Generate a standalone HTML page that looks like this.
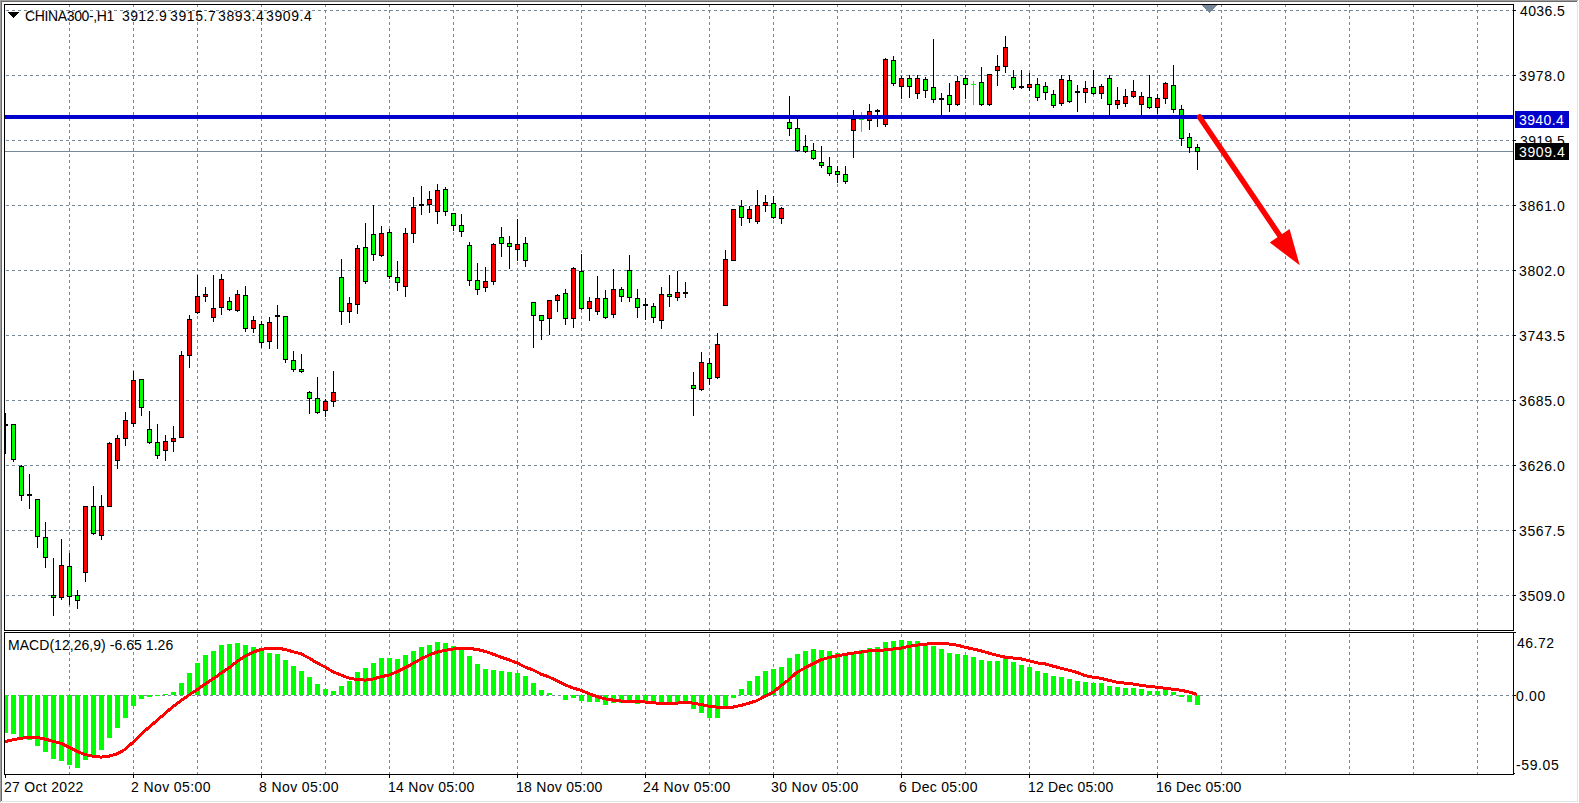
<!DOCTYPE html>
<html><head><meta charset="utf-8"><style>
html,body{margin:0;padding:0;background:#fff;}
body{width:1579px;height:803px;overflow:hidden;position:relative;}
svg{position:absolute;left:0;top:0;display:block;}
text{font-family:"Liberation Sans",sans-serif;white-space:pre;}
</style></head><body>
<svg width="1579" height="803" viewBox="0 0 1579 803" shape-rendering="crispEdges">
<rect x="0" y="0" width="1579" height="803" fill="#fff"/>
<path d="M69.5 4V775 M133.5 4V775 M197.5 4V775 M261.5 4V775 M325.5 4V775 M389.5 4V775 M453.5 4V775 M517.5 4V775 M581.5 4V775 M645.5 4V775 M709.5 4V775 M773.5 4V775 M837.5 4V775 M901.5 4V775 M965.5 4V775 M1029.5 4V775 M1093.5 4V775 M1157.5 4V775 M1221.5 4V775 M1285.5 4V775 M1349.5 4V775 M1413.5 4V775 M1477.5 4V775 M6 10.5H1513 M6 75.5H1513 M6 140.5H1513 M6 205.5H1513 M6 270.5H1513 M6 335.5H1513 M6 400.5H1513 M6 465.5H1513 M6 530.5H1513 M6 595.5H1513 M6 695.5H1513" stroke="#778899" stroke-width="1" stroke-dasharray="3 3" fill="none"/>
<rect x="5" y="631" width="1508" height="1" fill="#fff"/>
<rect x="5" y="151" width="1508" height="1" fill="#778899"/>
<rect x="5" y="413" width="1" height="41" fill="#000"/>
<rect x="5" y="424" width="3" height="2" fill="#000"/>
<rect x="13" y="424" width="1" height="38" fill="#000"/>
<rect x="11" y="424" width="5" height="36" fill="#000"/>
<rect x="12" y="425" width="3" height="34" fill="#00ff00"/>
<rect x="21" y="465" width="1" height="36" fill="#000"/>
<rect x="19" y="466" width="5" height="30" fill="#000"/>
<rect x="20" y="467" width="3" height="28" fill="#00ff00"/>
<rect x="29" y="474" width="1" height="35" fill="#000"/>
<rect x="27" y="494" width="5" height="2" fill="#000"/>
<rect x="37" y="499" width="1" height="49" fill="#000"/>
<rect x="35" y="499" width="5" height="38" fill="#000"/>
<rect x="36" y="500" width="3" height="36" fill="#00ff00"/>
<rect x="45" y="522" width="1" height="46" fill="#000"/>
<rect x="43" y="537" width="5" height="21" fill="#000"/>
<rect x="44" y="538" width="3" height="19" fill="#00ff00"/>
<rect x="53" y="558" width="1" height="58" fill="#000"/>
<rect x="51" y="595" width="5" height="3" fill="#000"/>
<rect x="52" y="596" width="3" height="1" fill="#00ff00"/>
<rect x="61" y="539" width="1" height="61" fill="#000"/>
<rect x="59" y="565" width="5" height="33" fill="#000"/>
<rect x="60" y="566" width="3" height="31" fill="#ff0000"/>
<rect x="69" y="553" width="1" height="52" fill="#000"/>
<rect x="67" y="566" width="5" height="31" fill="#000"/>
<rect x="68" y="567" width="3" height="29" fill="#00ff00"/>
<rect x="77" y="590" width="1" height="19" fill="#000"/>
<rect x="75" y="595" width="5" height="6" fill="#000"/>
<rect x="76" y="596" width="3" height="4" fill="#00ff00"/>
<rect x="85" y="506" width="1" height="76" fill="#000"/>
<rect x="83" y="506" width="5" height="67" fill="#000"/>
<rect x="84" y="507" width="3" height="65" fill="#ff0000"/>
<rect x="93" y="486" width="1" height="49" fill="#000"/>
<rect x="91" y="506" width="5" height="28" fill="#000"/>
<rect x="92" y="507" width="3" height="26" fill="#00ff00"/>
<rect x="101" y="495" width="1" height="45" fill="#000"/>
<rect x="99" y="506" width="5" height="30" fill="#000"/>
<rect x="100" y="507" width="3" height="28" fill="#ff0000"/>
<rect x="109" y="442" width="1" height="65" fill="#000"/>
<rect x="107" y="443" width="5" height="64" fill="#000"/>
<rect x="108" y="444" width="3" height="62" fill="#ff0000"/>
<rect x="117" y="435" width="1" height="34" fill="#000"/>
<rect x="115" y="438" width="5" height="23" fill="#000"/>
<rect x="116" y="439" width="3" height="21" fill="#ff0000"/>
<rect x="125" y="412" width="1" height="34" fill="#000"/>
<rect x="123" y="420" width="5" height="19" fill="#000"/>
<rect x="124" y="421" width="3" height="17" fill="#ff0000"/>
<rect x="133" y="371" width="1" height="56" fill="#000"/>
<rect x="131" y="380" width="5" height="44" fill="#000"/>
<rect x="132" y="381" width="3" height="42" fill="#ff0000"/>
<rect x="141" y="379" width="1" height="37" fill="#000"/>
<rect x="139" y="379" width="5" height="29" fill="#000"/>
<rect x="140" y="380" width="3" height="27" fill="#00ff00"/>
<rect x="149" y="411" width="1" height="33" fill="#000"/>
<rect x="147" y="429" width="5" height="14" fill="#000"/>
<rect x="148" y="430" width="3" height="12" fill="#00ff00"/>
<rect x="157" y="424" width="1" height="35" fill="#000"/>
<rect x="155" y="442" width="5" height="14" fill="#000"/>
<rect x="156" y="443" width="3" height="12" fill="#00ff00"/>
<rect x="165" y="435" width="1" height="26" fill="#000"/>
<rect x="163" y="441" width="5" height="10" fill="#000"/>
<rect x="164" y="442" width="3" height="8" fill="#ff0000"/>
<rect x="173" y="426" width="1" height="26" fill="#000"/>
<rect x="171" y="438" width="5" height="4" fill="#000"/>
<rect x="172" y="439" width="3" height="2" fill="#ff0000"/>
<rect x="181" y="351" width="1" height="87" fill="#000"/>
<rect x="179" y="355" width="5" height="83" fill="#000"/>
<rect x="180" y="356" width="3" height="81" fill="#ff0000"/>
<rect x="189" y="315" width="1" height="53" fill="#000"/>
<rect x="187" y="319" width="5" height="37" fill="#000"/>
<rect x="188" y="320" width="3" height="35" fill="#ff0000"/>
<rect x="197" y="275" width="1" height="39" fill="#000"/>
<rect x="195" y="296" width="5" height="17" fill="#000"/>
<rect x="196" y="297" width="3" height="15" fill="#ff0000"/>
<rect x="205" y="287" width="1" height="15" fill="#000"/>
<rect x="203" y="294" width="5" height="3" fill="#000"/>
<rect x="204" y="295" width="3" height="1" fill="#ff0000"/>
<rect x="213" y="275" width="1" height="47" fill="#000"/>
<rect x="211" y="308" width="5" height="10" fill="#000"/>
<rect x="212" y="309" width="3" height="8" fill="#ff0000"/>
<rect x="221" y="274" width="1" height="41" fill="#000"/>
<rect x="219" y="279" width="5" height="29" fill="#000"/>
<rect x="220" y="280" width="3" height="27" fill="#ff0000"/>
<rect x="229" y="297" width="1" height="14" fill="#000"/>
<rect x="227" y="301" width="5" height="9" fill="#000"/>
<rect x="228" y="302" width="3" height="7" fill="#00ff00"/>
<rect x="237" y="290" width="1" height="22" fill="#000"/>
<rect x="235" y="294" width="5" height="17" fill="#000"/>
<rect x="236" y="295" width="3" height="15" fill="#ff0000"/>
<rect x="245" y="286" width="1" height="46" fill="#000"/>
<rect x="243" y="295" width="5" height="34" fill="#000"/>
<rect x="244" y="296" width="3" height="32" fill="#00ff00"/>
<rect x="253" y="316" width="1" height="17" fill="#000"/>
<rect x="251" y="320" width="5" height="9" fill="#000"/>
<rect x="252" y="321" width="3" height="7" fill="#ff0000"/>
<rect x="261" y="321" width="1" height="27" fill="#000"/>
<rect x="259" y="324" width="5" height="19" fill="#000"/>
<rect x="260" y="325" width="3" height="17" fill="#00ff00"/>
<rect x="269" y="317" width="1" height="32" fill="#000"/>
<rect x="267" y="322" width="5" height="20" fill="#000"/>
<rect x="268" y="323" width="3" height="18" fill="#ff0000"/>
<rect x="277" y="305" width="1" height="44" fill="#000"/>
<rect x="275" y="315" width="5" height="2" fill="#000"/>
<rect x="285" y="316" width="1" height="47" fill="#000"/>
<rect x="283" y="316" width="5" height="44" fill="#000"/>
<rect x="284" y="317" width="3" height="42" fill="#00ff00"/>
<rect x="293" y="351" width="1" height="21" fill="#000"/>
<rect x="291" y="360" width="5" height="10" fill="#000"/>
<rect x="292" y="361" width="3" height="8" fill="#00ff00"/>
<rect x="301" y="354" width="1" height="19" fill="#000"/>
<rect x="299" y="369" width="5" height="3" fill="#000"/>
<rect x="300" y="370" width="3" height="1" fill="#00ff00"/>
<rect x="309" y="391" width="1" height="23" fill="#000"/>
<rect x="307" y="392" width="5" height="7" fill="#000"/>
<rect x="308" y="393" width="3" height="5" fill="#00ff00"/>
<rect x="317" y="377" width="1" height="37" fill="#000"/>
<rect x="315" y="398" width="5" height="15" fill="#000"/>
<rect x="316" y="399" width="3" height="13" fill="#00ff00"/>
<rect x="325" y="399" width="1" height="18" fill="#000"/>
<rect x="323" y="401" width="5" height="10" fill="#000"/>
<rect x="324" y="402" width="3" height="8" fill="#ff0000"/>
<rect x="333" y="371" width="1" height="36" fill="#000"/>
<rect x="331" y="392" width="5" height="10" fill="#000"/>
<rect x="332" y="393" width="3" height="8" fill="#ff0000"/>
<rect x="341" y="259" width="1" height="66" fill="#000"/>
<rect x="339" y="277" width="5" height="35" fill="#000"/>
<rect x="340" y="278" width="3" height="33" fill="#00ff00"/>
<rect x="349" y="297" width="1" height="26" fill="#000"/>
<rect x="347" y="303" width="5" height="9" fill="#000"/>
<rect x="348" y="304" width="3" height="7" fill="#ff0000"/>
<rect x="357" y="245" width="1" height="69" fill="#000"/>
<rect x="355" y="248" width="5" height="57" fill="#000"/>
<rect x="356" y="249" width="3" height="55" fill="#ff0000"/>
<rect x="365" y="223" width="1" height="61" fill="#000"/>
<rect x="363" y="247" width="5" height="35" fill="#000"/>
<rect x="364" y="248" width="3" height="33" fill="#00ff00"/>
<rect x="373" y="205" width="1" height="56" fill="#000"/>
<rect x="371" y="234" width="5" height="21" fill="#000"/>
<rect x="372" y="235" width="3" height="19" fill="#00ff00"/>
<rect x="381" y="226" width="1" height="31" fill="#000"/>
<rect x="379" y="233" width="5" height="23" fill="#000"/>
<rect x="380" y="234" width="3" height="21" fill="#ff0000"/>
<rect x="389" y="229" width="1" height="50" fill="#000"/>
<rect x="387" y="232" width="5" height="45" fill="#000"/>
<rect x="388" y="233" width="3" height="43" fill="#00ff00"/>
<rect x="397" y="261" width="1" height="30" fill="#000"/>
<rect x="395" y="277" width="5" height="6" fill="#000"/>
<rect x="396" y="278" width="3" height="4" fill="#00ff00"/>
<rect x="405" y="228" width="1" height="69" fill="#000"/>
<rect x="403" y="233" width="5" height="54" fill="#000"/>
<rect x="404" y="234" width="3" height="52" fill="#ff0000"/>
<rect x="413" y="197" width="1" height="46" fill="#000"/>
<rect x="411" y="207" width="5" height="27" fill="#000"/>
<rect x="412" y="208" width="3" height="25" fill="#ff0000"/>
<rect x="421" y="186" width="1" height="29" fill="#000"/>
<rect x="419" y="204" width="5" height="2" fill="#000"/>
<rect x="429" y="191" width="1" height="22" fill="#000"/>
<rect x="427" y="199" width="5" height="6" fill="#000"/>
<rect x="428" y="200" width="3" height="4" fill="#ff0000"/>
<rect x="437" y="184" width="1" height="40" fill="#000"/>
<rect x="435" y="190" width="5" height="22" fill="#000"/>
<rect x="436" y="191" width="3" height="20" fill="#ff0000"/>
<rect x="445" y="187" width="1" height="29" fill="#000"/>
<rect x="443" y="189" width="5" height="23" fill="#000"/>
<rect x="444" y="190" width="3" height="21" fill="#00ff00"/>
<rect x="453" y="213" width="1" height="18" fill="#000"/>
<rect x="451" y="213" width="5" height="13" fill="#000"/>
<rect x="452" y="214" width="3" height="11" fill="#00ff00"/>
<rect x="461" y="214" width="1" height="23" fill="#000"/>
<rect x="459" y="225" width="5" height="7" fill="#000"/>
<rect x="460" y="226" width="3" height="5" fill="#00ff00"/>
<rect x="469" y="242" width="1" height="44" fill="#000"/>
<rect x="467" y="245" width="5" height="36" fill="#000"/>
<rect x="468" y="246" width="3" height="34" fill="#00ff00"/>
<rect x="477" y="263" width="1" height="32" fill="#000"/>
<rect x="475" y="280" width="5" height="10" fill="#000"/>
<rect x="476" y="281" width="3" height="8" fill="#00ff00"/>
<rect x="485" y="267" width="1" height="25" fill="#000"/>
<rect x="483" y="281" width="5" height="7" fill="#000"/>
<rect x="484" y="282" width="3" height="5" fill="#ff0000"/>
<rect x="493" y="243" width="1" height="42" fill="#000"/>
<rect x="491" y="244" width="5" height="38" fill="#000"/>
<rect x="492" y="245" width="3" height="36" fill="#ff0000"/>
<rect x="501" y="227" width="1" height="30" fill="#000"/>
<rect x="499" y="237" width="5" height="7" fill="#000"/>
<rect x="500" y="238" width="3" height="5" fill="#00ff00"/>
<rect x="509" y="236" width="1" height="33" fill="#000"/>
<rect x="507" y="243" width="5" height="4" fill="#000"/>
<rect x="508" y="244" width="3" height="2" fill="#00ff00"/>
<rect x="517" y="219" width="1" height="42" fill="#000"/>
<rect x="515" y="244" width="5" height="6" fill="#000"/>
<rect x="516" y="245" width="3" height="4" fill="#ff0000"/>
<rect x="525" y="237" width="1" height="30" fill="#000"/>
<rect x="523" y="243" width="5" height="18" fill="#000"/>
<rect x="524" y="244" width="3" height="16" fill="#00ff00"/>
<rect x="533" y="302" width="1" height="46" fill="#000"/>
<rect x="531" y="302" width="5" height="14" fill="#000"/>
<rect x="532" y="303" width="3" height="12" fill="#00ff00"/>
<rect x="541" y="315" width="1" height="25" fill="#000"/>
<rect x="539" y="315" width="5" height="6" fill="#000"/>
<rect x="540" y="316" width="3" height="4" fill="#00ff00"/>
<rect x="549" y="300" width="1" height="35" fill="#000"/>
<rect x="547" y="300" width="5" height="19" fill="#000"/>
<rect x="548" y="301" width="3" height="17" fill="#ff0000"/>
<rect x="557" y="294" width="1" height="18" fill="#000"/>
<rect x="555" y="295" width="5" height="6" fill="#000"/>
<rect x="556" y="296" width="3" height="4" fill="#ff0000"/>
<rect x="565" y="289" width="1" height="36" fill="#000"/>
<rect x="563" y="293" width="5" height="26" fill="#000"/>
<rect x="564" y="294" width="3" height="24" fill="#00ff00"/>
<rect x="573" y="267" width="1" height="61" fill="#000"/>
<rect x="571" y="268" width="5" height="51" fill="#000"/>
<rect x="572" y="269" width="3" height="49" fill="#ff0000"/>
<rect x="581" y="254" width="1" height="56" fill="#000"/>
<rect x="579" y="271" width="5" height="38" fill="#000"/>
<rect x="580" y="272" width="3" height="36" fill="#00ff00"/>
<rect x="589" y="297" width="1" height="24" fill="#000"/>
<rect x="587" y="301" width="5" height="8" fill="#000"/>
<rect x="588" y="302" width="3" height="6" fill="#ff0000"/>
<rect x="597" y="276" width="1" height="39" fill="#000"/>
<rect x="595" y="298" width="5" height="14" fill="#000"/>
<rect x="596" y="299" width="3" height="12" fill="#ff0000"/>
<rect x="605" y="290" width="1" height="29" fill="#000"/>
<rect x="603" y="298" width="5" height="20" fill="#000"/>
<rect x="604" y="299" width="3" height="18" fill="#00ff00"/>
<rect x="613" y="269" width="1" height="49" fill="#000"/>
<rect x="611" y="289" width="5" height="26" fill="#000"/>
<rect x="612" y="290" width="3" height="24" fill="#ff0000"/>
<rect x="621" y="287" width="1" height="15" fill="#000"/>
<rect x="619" y="289" width="5" height="8" fill="#000"/>
<rect x="620" y="290" width="3" height="6" fill="#00ff00"/>
<rect x="629" y="255" width="1" height="47" fill="#000"/>
<rect x="627" y="270" width="5" height="28" fill="#000"/>
<rect x="628" y="271" width="3" height="26" fill="#00ff00"/>
<rect x="637" y="289" width="1" height="29" fill="#000"/>
<rect x="635" y="298" width="5" height="10" fill="#000"/>
<rect x="636" y="299" width="3" height="8" fill="#00ff00"/>
<rect x="645" y="298" width="1" height="22" fill="#000"/>
<rect x="643" y="304" width="5" height="2" fill="#000"/>
<rect x="653" y="303" width="1" height="20" fill="#000"/>
<rect x="651" y="306" width="5" height="12" fill="#000"/>
<rect x="652" y="307" width="3" height="10" fill="#00ff00"/>
<rect x="661" y="287" width="1" height="42" fill="#000"/>
<rect x="659" y="294" width="5" height="27" fill="#000"/>
<rect x="660" y="295" width="3" height="25" fill="#ff0000"/>
<rect x="669" y="275" width="1" height="32" fill="#000"/>
<rect x="667" y="294" width="5" height="3" fill="#000"/>
<rect x="668" y="295" width="3" height="1" fill="#00ff00"/>
<rect x="677" y="271" width="1" height="30" fill="#000"/>
<rect x="675" y="292" width="5" height="6" fill="#000"/>
<rect x="676" y="293" width="3" height="4" fill="#ff0000"/>
<rect x="685" y="282" width="1" height="16" fill="#000"/>
<rect x="683" y="292" width="5" height="2" fill="#000"/>
<rect x="693" y="372" width="1" height="44" fill="#000"/>
<rect x="691" y="385" width="5" height="4" fill="#000"/>
<rect x="692" y="386" width="3" height="2" fill="#00ff00"/>
<rect x="701" y="352" width="1" height="39" fill="#000"/>
<rect x="699" y="362" width="5" height="28" fill="#000"/>
<rect x="700" y="363" width="3" height="26" fill="#ff0000"/>
<rect x="709" y="358" width="1" height="27" fill="#000"/>
<rect x="707" y="363" width="5" height="16" fill="#000"/>
<rect x="708" y="364" width="3" height="14" fill="#00ff00"/>
<rect x="717" y="333" width="1" height="46" fill="#000"/>
<rect x="715" y="344" width="5" height="34" fill="#000"/>
<rect x="716" y="345" width="3" height="32" fill="#ff0000"/>
<rect x="725" y="250" width="1" height="56" fill="#000"/>
<rect x="723" y="259" width="5" height="47" fill="#000"/>
<rect x="724" y="260" width="3" height="45" fill="#ff0000"/>
<rect x="733" y="209" width="1" height="52" fill="#000"/>
<rect x="731" y="209" width="5" height="52" fill="#000"/>
<rect x="732" y="210" width="3" height="50" fill="#ff0000"/>
<rect x="741" y="200" width="1" height="26" fill="#000"/>
<rect x="739" y="206" width="5" height="12" fill="#000"/>
<rect x="740" y="207" width="3" height="10" fill="#00ff00"/>
<rect x="749" y="206" width="1" height="17" fill="#000"/>
<rect x="747" y="209" width="5" height="10" fill="#000"/>
<rect x="748" y="210" width="3" height="8" fill="#ff0000"/>
<rect x="757" y="190" width="1" height="34" fill="#000"/>
<rect x="755" y="205" width="5" height="17" fill="#000"/>
<rect x="756" y="206" width="3" height="15" fill="#ff0000"/>
<rect x="765" y="195" width="1" height="17" fill="#000"/>
<rect x="763" y="202" width="5" height="4" fill="#000"/>
<rect x="764" y="203" width="3" height="2" fill="#ff0000"/>
<rect x="773" y="196" width="1" height="23" fill="#000"/>
<rect x="771" y="203" width="5" height="15" fill="#000"/>
<rect x="772" y="204" width="3" height="13" fill="#00ff00"/>
<rect x="781" y="207" width="1" height="17" fill="#000"/>
<rect x="779" y="208" width="5" height="11" fill="#000"/>
<rect x="780" y="209" width="3" height="9" fill="#ff0000"/>
<rect x="789" y="96" width="1" height="40" fill="#000"/>
<rect x="787" y="122" width="5" height="7" fill="#000"/>
<rect x="788" y="123" width="3" height="5" fill="#00ff00"/>
<rect x="797" y="117" width="1" height="35" fill="#000"/>
<rect x="795" y="128" width="5" height="23" fill="#000"/>
<rect x="796" y="129" width="3" height="21" fill="#00ff00"/>
<rect x="805" y="135" width="1" height="18" fill="#000"/>
<rect x="803" y="146" width="5" height="6" fill="#000"/>
<rect x="804" y="147" width="3" height="4" fill="#00ff00"/>
<rect x="813" y="143" width="1" height="17" fill="#000"/>
<rect x="811" y="150" width="5" height="9" fill="#000"/>
<rect x="812" y="151" width="3" height="7" fill="#00ff00"/>
<rect x="821" y="146" width="1" height="22" fill="#000"/>
<rect x="819" y="162" width="5" height="4" fill="#000"/>
<rect x="820" y="163" width="3" height="2" fill="#00ff00"/>
<rect x="829" y="157" width="1" height="19" fill="#000"/>
<rect x="827" y="166" width="5" height="8" fill="#000"/>
<rect x="828" y="167" width="3" height="6" fill="#00ff00"/>
<rect x="837" y="166" width="1" height="17" fill="#000"/>
<rect x="835" y="171" width="5" height="4" fill="#000"/>
<rect x="836" y="172" width="3" height="2" fill="#00ff00"/>
<rect x="845" y="166" width="1" height="18" fill="#000"/>
<rect x="843" y="174" width="5" height="8" fill="#000"/>
<rect x="844" y="175" width="3" height="6" fill="#00ff00"/>
<rect x="853" y="110" width="1" height="48" fill="#000"/>
<rect x="851" y="119" width="5" height="12" fill="#000"/>
<rect x="852" y="120" width="3" height="10" fill="#ff0000"/>
<rect x="861" y="112" width="1" height="20" fill="#00ff00"/>
<rect x="859" y="119" width="5" height="1" fill="#00ff00"/>
<rect x="869" y="104" width="1" height="26" fill="#000"/>
<rect x="867" y="111" width="5" height="10" fill="#000"/>
<rect x="868" y="112" width="3" height="8" fill="#ff0000"/>
<rect x="877" y="109" width="1" height="18" fill="#000"/>
<rect x="875" y="110" width="5" height="2" fill="#000"/>
<rect x="885" y="58" width="1" height="69" fill="#000"/>
<rect x="883" y="59" width="5" height="66" fill="#000"/>
<rect x="884" y="60" width="3" height="64" fill="#ff0000"/>
<rect x="893" y="56" width="1" height="30" fill="#000"/>
<rect x="891" y="60" width="5" height="24" fill="#000"/>
<rect x="892" y="61" width="3" height="22" fill="#00ff00"/>
<rect x="901" y="76" width="1" height="23" fill="#000"/>
<rect x="899" y="78" width="5" height="9" fill="#000"/>
<rect x="900" y="79" width="3" height="7" fill="#ff0000"/>
<rect x="909" y="75" width="1" height="23" fill="#000"/>
<rect x="907" y="78" width="5" height="9" fill="#000"/>
<rect x="908" y="79" width="3" height="7" fill="#00ff00"/>
<rect x="917" y="75" width="1" height="24" fill="#000"/>
<rect x="915" y="78" width="5" height="16" fill="#000"/>
<rect x="916" y="79" width="3" height="14" fill="#ff0000"/>
<rect x="925" y="77" width="1" height="21" fill="#000"/>
<rect x="923" y="79" width="5" height="12" fill="#000"/>
<rect x="924" y="80" width="3" height="10" fill="#00ff00"/>
<rect x="933" y="39" width="1" height="64" fill="#000"/>
<rect x="931" y="87" width="5" height="13" fill="#000"/>
<rect x="932" y="88" width="3" height="11" fill="#00ff00"/>
<rect x="941" y="93" width="1" height="24" fill="#000"/>
<rect x="939" y="98" width="5" height="2" fill="#000"/>
<rect x="949" y="83" width="1" height="29" fill="#000"/>
<rect x="947" y="95" width="5" height="10" fill="#000"/>
<rect x="948" y="96" width="3" height="8" fill="#00ff00"/>
<rect x="957" y="76" width="1" height="30" fill="#000"/>
<rect x="955" y="81" width="5" height="24" fill="#000"/>
<rect x="956" y="82" width="3" height="22" fill="#ff0000"/>
<rect x="965" y="75" width="1" height="24" fill="#000"/>
<rect x="963" y="78" width="5" height="7" fill="#000"/>
<rect x="964" y="79" width="3" height="5" fill="#00ff00"/>
<rect x="973" y="81" width="1" height="24" fill="#00ff00"/>
<rect x="971" y="84" width="5" height="1" fill="#00ff00"/>
<rect x="981" y="67" width="1" height="39" fill="#000"/>
<rect x="979" y="82" width="5" height="23" fill="#000"/>
<rect x="980" y="83" width="3" height="21" fill="#00ff00"/>
<rect x="989" y="74" width="1" height="32" fill="#000"/>
<rect x="987" y="74" width="5" height="31" fill="#000"/>
<rect x="988" y="75" width="3" height="29" fill="#ff0000"/>
<rect x="997" y="55" width="1" height="31" fill="#000"/>
<rect x="995" y="66" width="5" height="5" fill="#000"/>
<rect x="996" y="67" width="3" height="3" fill="#ff0000"/>
<rect x="1005" y="36" width="1" height="37" fill="#000"/>
<rect x="1003" y="47" width="5" height="20" fill="#000"/>
<rect x="1004" y="48" width="3" height="18" fill="#ff0000"/>
<rect x="1013" y="70" width="1" height="20" fill="#000"/>
<rect x="1011" y="77" width="5" height="11" fill="#000"/>
<rect x="1012" y="78" width="3" height="9" fill="#00ff00"/>
<rect x="1021" y="70" width="1" height="19" fill="#000"/>
<rect x="1019" y="86" width="5" height="2" fill="#000"/>
<rect x="1029" y="73" width="1" height="18" fill="#000"/>
<rect x="1027" y="84" width="5" height="4" fill="#000"/>
<rect x="1028" y="85" width="3" height="2" fill="#ff0000"/>
<rect x="1037" y="78" width="1" height="23" fill="#000"/>
<rect x="1035" y="84" width="5" height="14" fill="#000"/>
<rect x="1036" y="85" width="3" height="12" fill="#00ff00"/>
<rect x="1045" y="82" width="1" height="18" fill="#000"/>
<rect x="1043" y="86" width="5" height="7" fill="#000"/>
<rect x="1044" y="87" width="3" height="5" fill="#00ff00"/>
<rect x="1053" y="90" width="1" height="18" fill="#000"/>
<rect x="1051" y="94" width="5" height="12" fill="#000"/>
<rect x="1052" y="95" width="3" height="10" fill="#00ff00"/>
<rect x="1061" y="75" width="1" height="31" fill="#000"/>
<rect x="1059" y="79" width="5" height="25" fill="#000"/>
<rect x="1060" y="80" width="3" height="23" fill="#ff0000"/>
<rect x="1069" y="75" width="1" height="28" fill="#000"/>
<rect x="1067" y="80" width="5" height="22" fill="#000"/>
<rect x="1068" y="81" width="3" height="20" fill="#00ff00"/>
<rect x="1077" y="85" width="1" height="27" fill="#000"/>
<rect x="1075" y="91" width="5" height="2" fill="#000"/>
<rect x="1085" y="81" width="1" height="22" fill="#000"/>
<rect x="1083" y="88" width="5" height="5" fill="#000"/>
<rect x="1084" y="89" width="3" height="3" fill="#ff0000"/>
<rect x="1093" y="70" width="1" height="25" fill="#000"/>
<rect x="1091" y="87" width="5" height="7" fill="#000"/>
<rect x="1092" y="88" width="3" height="5" fill="#00ff00"/>
<rect x="1101" y="84" width="1" height="15" fill="#000"/>
<rect x="1099" y="86" width="5" height="8" fill="#000"/>
<rect x="1100" y="87" width="3" height="6" fill="#ff0000"/>
<rect x="1109" y="75" width="1" height="42" fill="#000"/>
<rect x="1107" y="78" width="5" height="27" fill="#000"/>
<rect x="1108" y="79" width="3" height="25" fill="#00ff00"/>
<rect x="1117" y="87" width="1" height="22" fill="#000"/>
<rect x="1115" y="100" width="5" height="5" fill="#000"/>
<rect x="1116" y="101" width="3" height="3" fill="#ff0000"/>
<rect x="1125" y="89" width="1" height="18" fill="#000"/>
<rect x="1123" y="96" width="5" height="8" fill="#000"/>
<rect x="1124" y="97" width="3" height="6" fill="#ff0000"/>
<rect x="1133" y="80" width="1" height="18" fill="#000"/>
<rect x="1131" y="91" width="5" height="6" fill="#000"/>
<rect x="1132" y="92" width="3" height="4" fill="#ff0000"/>
<rect x="1141" y="92" width="1" height="25" fill="#000"/>
<rect x="1139" y="96" width="5" height="9" fill="#000"/>
<rect x="1140" y="97" width="3" height="7" fill="#ff0000"/>
<rect x="1149" y="75" width="1" height="34" fill="#000"/>
<rect x="1147" y="97" width="5" height="11" fill="#000"/>
<rect x="1148" y="98" width="3" height="9" fill="#00ff00"/>
<rect x="1157" y="94" width="1" height="20" fill="#000"/>
<rect x="1155" y="98" width="5" height="10" fill="#000"/>
<rect x="1156" y="99" width="3" height="8" fill="#ff0000"/>
<rect x="1165" y="82" width="1" height="22" fill="#000"/>
<rect x="1163" y="83" width="5" height="16" fill="#000"/>
<rect x="1164" y="84" width="3" height="14" fill="#ff0000"/>
<rect x="1173" y="65" width="1" height="48" fill="#000"/>
<rect x="1171" y="85" width="5" height="25" fill="#000"/>
<rect x="1172" y="86" width="3" height="23" fill="#00ff00"/>
<rect x="1181" y="105" width="1" height="41" fill="#000"/>
<rect x="1179" y="109" width="5" height="30" fill="#000"/>
<rect x="1180" y="110" width="3" height="28" fill="#00ff00"/>
<rect x="1189" y="133" width="1" height="20" fill="#000"/>
<rect x="1187" y="137" width="5" height="11" fill="#000"/>
<rect x="1188" y="138" width="3" height="9" fill="#00ff00"/>
<rect x="1197" y="144" width="1" height="26" fill="#000"/>
<rect x="1195" y="147" width="5" height="5" fill="#000"/>
<rect x="1196" y="148" width="3" height="3" fill="#00ff00"/>
<rect x="5" y="115" width="1508" height="4" fill="#0000cd"/>
<rect x="5" y="695" width="3" height="38" fill="#00ff00"/>
<rect x="11" y="695" width="5" height="39" fill="#00ff00"/>
<rect x="19" y="695" width="5" height="43" fill="#00ff00"/>
<rect x="27" y="695" width="5" height="45" fill="#00ff00"/>
<rect x="35" y="695" width="5" height="51" fill="#00ff00"/>
<rect x="43" y="695" width="5" height="57" fill="#00ff00"/>
<rect x="51" y="695" width="5" height="64" fill="#00ff00"/>
<rect x="59" y="695" width="5" height="66" fill="#00ff00"/>
<rect x="67" y="695" width="5" height="70" fill="#00ff00"/>
<rect x="75" y="695" width="5" height="73" fill="#00ff00"/>
<rect x="83" y="695" width="5" height="65" fill="#00ff00"/>
<rect x="91" y="695" width="5" height="60" fill="#00ff00"/>
<rect x="99" y="695" width="5" height="55" fill="#00ff00"/>
<rect x="107" y="695" width="5" height="43" fill="#00ff00"/>
<rect x="115" y="695" width="5" height="33" fill="#00ff00"/>
<rect x="123" y="695" width="5" height="23" fill="#00ff00"/>
<rect x="131" y="695" width="5" height="11" fill="#00ff00"/>
<rect x="139" y="695" width="5" height="4" fill="#00ff00"/>
<rect x="147" y="695" width="5" height="2" fill="#00ff00"/>
<rect x="155" y="695" width="5" height="1" fill="#00ff00"/>
<rect x="163" y="694" width="5" height="1" fill="#00ff00"/>
<rect x="171" y="692" width="5" height="3" fill="#00ff00"/>
<rect x="179" y="683" width="5" height="12" fill="#00ff00"/>
<rect x="187" y="673" width="5" height="22" fill="#00ff00"/>
<rect x="195" y="663" width="5" height="32" fill="#00ff00"/>
<rect x="203" y="655" width="5" height="40" fill="#00ff00"/>
<rect x="211" y="651" width="5" height="44" fill="#00ff00"/>
<rect x="219" y="645" width="5" height="50" fill="#00ff00"/>
<rect x="227" y="644" width="5" height="51" fill="#00ff00"/>
<rect x="235" y="643" width="5" height="52" fill="#00ff00"/>
<rect x="243" y="645" width="5" height="50" fill="#00ff00"/>
<rect x="251" y="647" width="5" height="48" fill="#00ff00"/>
<rect x="259" y="649" width="5" height="46" fill="#00ff00"/>
<rect x="267" y="653" width="5" height="42" fill="#00ff00"/>
<rect x="275" y="654" width="5" height="41" fill="#00ff00"/>
<rect x="283" y="660" width="5" height="35" fill="#00ff00"/>
<rect x="291" y="666" width="5" height="29" fill="#00ff00"/>
<rect x="299" y="671" width="5" height="24" fill="#00ff00"/>
<rect x="307" y="677" width="5" height="18" fill="#00ff00"/>
<rect x="315" y="684" width="5" height="11" fill="#00ff00"/>
<rect x="323" y="689" width="5" height="6" fill="#00ff00"/>
<rect x="331" y="691" width="5" height="4" fill="#00ff00"/>
<rect x="339" y="686" width="5" height="9" fill="#00ff00"/>
<rect x="347" y="681" width="5" height="14" fill="#00ff00"/>
<rect x="355" y="672" width="5" height="23" fill="#00ff00"/>
<rect x="363" y="668" width="5" height="27" fill="#00ff00"/>
<rect x="371" y="663" width="5" height="32" fill="#00ff00"/>
<rect x="379" y="658" width="5" height="37" fill="#00ff00"/>
<rect x="387" y="658" width="5" height="37" fill="#00ff00"/>
<rect x="395" y="659" width="5" height="36" fill="#00ff00"/>
<rect x="403" y="655" width="5" height="40" fill="#00ff00"/>
<rect x="411" y="651" width="5" height="44" fill="#00ff00"/>
<rect x="419" y="647" width="5" height="48" fill="#00ff00"/>
<rect x="427" y="645" width="5" height="50" fill="#00ff00"/>
<rect x="435" y="642" width="5" height="53" fill="#00ff00"/>
<rect x="443" y="643" width="5" height="52" fill="#00ff00"/>
<rect x="451" y="646" width="5" height="49" fill="#00ff00"/>
<rect x="459" y="649" width="5" height="46" fill="#00ff00"/>
<rect x="467" y="656" width="5" height="39" fill="#00ff00"/>
<rect x="475" y="664" width="5" height="31" fill="#00ff00"/>
<rect x="483" y="669" width="5" height="26" fill="#00ff00"/>
<rect x="491" y="670" width="5" height="25" fill="#00ff00"/>
<rect x="499" y="671" width="5" height="24" fill="#00ff00"/>
<rect x="507" y="672" width="5" height="23" fill="#00ff00"/>
<rect x="515" y="673" width="5" height="22" fill="#00ff00"/>
<rect x="523" y="676" width="5" height="19" fill="#00ff00"/>
<rect x="531" y="683" width="5" height="12" fill="#00ff00"/>
<rect x="539" y="690" width="5" height="5" fill="#00ff00"/>
<rect x="547" y="693" width="5" height="2" fill="#00ff00"/>
<rect x="563" y="695" width="5" height="5" fill="#00ff00"/>
<rect x="571" y="695" width="5" height="3" fill="#00ff00"/>
<rect x="579" y="695" width="5" height="6" fill="#00ff00"/>
<rect x="587" y="695" width="5" height="7" fill="#00ff00"/>
<rect x="595" y="695" width="5" height="7" fill="#00ff00"/>
<rect x="603" y="695" width="5" height="10" fill="#00ff00"/>
<rect x="611" y="695" width="5" height="8" fill="#00ff00"/>
<rect x="619" y="695" width="5" height="8" fill="#00ff00"/>
<rect x="627" y="695" width="5" height="6" fill="#00ff00"/>
<rect x="635" y="695" width="5" height="9" fill="#00ff00"/>
<rect x="643" y="695" width="5" height="7" fill="#00ff00"/>
<rect x="651" y="695" width="5" height="7" fill="#00ff00"/>
<rect x="659" y="695" width="5" height="7" fill="#00ff00"/>
<rect x="667" y="695" width="5" height="7" fill="#00ff00"/>
<rect x="675" y="695" width="5" height="7" fill="#00ff00"/>
<rect x="683" y="695" width="5" height="6" fill="#00ff00"/>
<rect x="691" y="695" width="5" height="14" fill="#00ff00"/>
<rect x="699" y="695" width="5" height="18" fill="#00ff00"/>
<rect x="707" y="695" width="5" height="23" fill="#00ff00"/>
<rect x="715" y="695" width="5" height="23" fill="#00ff00"/>
<rect x="723" y="695" width="5" height="12" fill="#00ff00"/>
<rect x="731" y="695" width="5" height="3" fill="#00ff00"/>
<rect x="739" y="689" width="5" height="6" fill="#00ff00"/>
<rect x="747" y="681" width="5" height="14" fill="#00ff00"/>
<rect x="755" y="676" width="5" height="19" fill="#00ff00"/>
<rect x="763" y="671" width="5" height="24" fill="#00ff00"/>
<rect x="771" y="669" width="5" height="26" fill="#00ff00"/>
<rect x="779" y="667" width="5" height="28" fill="#00ff00"/>
<rect x="787" y="658" width="5" height="37" fill="#00ff00"/>
<rect x="795" y="654" width="5" height="41" fill="#00ff00"/>
<rect x="803" y="651" width="5" height="44" fill="#00ff00"/>
<rect x="811" y="649" width="5" height="46" fill="#00ff00"/>
<rect x="819" y="650" width="5" height="45" fill="#00ff00"/>
<rect x="827" y="651" width="5" height="44" fill="#00ff00"/>
<rect x="835" y="653" width="5" height="42" fill="#00ff00"/>
<rect x="843" y="655" width="5" height="40" fill="#00ff00"/>
<rect x="851" y="653" width="5" height="42" fill="#00ff00"/>
<rect x="859" y="650" width="5" height="45" fill="#00ff00"/>
<rect x="867" y="648" width="5" height="47" fill="#00ff00"/>
<rect x="875" y="647" width="5" height="48" fill="#00ff00"/>
<rect x="883" y="642" width="5" height="53" fill="#00ff00"/>
<rect x="891" y="641" width="5" height="54" fill="#00ff00"/>
<rect x="899" y="640" width="5" height="55" fill="#00ff00"/>
<rect x="907" y="641" width="5" height="54" fill="#00ff00"/>
<rect x="915" y="641" width="5" height="54" fill="#00ff00"/>
<rect x="923" y="645" width="5" height="50" fill="#00ff00"/>
<rect x="931" y="646" width="5" height="49" fill="#00ff00"/>
<rect x="939" y="649" width="5" height="46" fill="#00ff00"/>
<rect x="947" y="653" width="5" height="42" fill="#00ff00"/>
<rect x="955" y="654" width="5" height="41" fill="#00ff00"/>
<rect x="963" y="655" width="5" height="40" fill="#00ff00"/>
<rect x="971" y="657" width="5" height="38" fill="#00ff00"/>
<rect x="979" y="660" width="5" height="35" fill="#00ff00"/>
<rect x="987" y="661" width="5" height="34" fill="#00ff00"/>
<rect x="995" y="661" width="5" height="34" fill="#00ff00"/>
<rect x="1003" y="658" width="5" height="37" fill="#00ff00"/>
<rect x="1011" y="662" width="5" height="33" fill="#00ff00"/>
<rect x="1019" y="665" width="5" height="30" fill="#00ff00"/>
<rect x="1027" y="667" width="5" height="28" fill="#00ff00"/>
<rect x="1035" y="671" width="5" height="24" fill="#00ff00"/>
<rect x="1043" y="673" width="5" height="22" fill="#00ff00"/>
<rect x="1051" y="676" width="5" height="19" fill="#00ff00"/>
<rect x="1059" y="677" width="5" height="18" fill="#00ff00"/>
<rect x="1067" y="679" width="5" height="16" fill="#00ff00"/>
<rect x="1075" y="681" width="5" height="14" fill="#00ff00"/>
<rect x="1083" y="682" width="5" height="13" fill="#00ff00"/>
<rect x="1091" y="683" width="5" height="12" fill="#00ff00"/>
<rect x="1099" y="683" width="5" height="12" fill="#00ff00"/>
<rect x="1107" y="686" width="5" height="9" fill="#00ff00"/>
<rect x="1115" y="687" width="5" height="8" fill="#00ff00"/>
<rect x="1123" y="688" width="5" height="7" fill="#00ff00"/>
<rect x="1131" y="688" width="5" height="7" fill="#00ff00"/>
<rect x="1139" y="689" width="5" height="6" fill="#00ff00"/>
<rect x="1147" y="691" width="5" height="4" fill="#00ff00"/>
<rect x="1155" y="691" width="5" height="4" fill="#00ff00"/>
<rect x="1163" y="690" width="5" height="5" fill="#00ff00"/>
<rect x="1171" y="692" width="5" height="3" fill="#00ff00"/>
<rect x="1179" y="695" width="5" height="2" fill="#00ff00"/>
<rect x="1187" y="695" width="5" height="7" fill="#00ff00"/>
<rect x="1195" y="695" width="5" height="10" fill="#00ff00"/>
<polyline points="5,741.6 13,739.7 21,738.3 29,737.3 37,737.3 45,739.1 53,741.3 61,743.2 69,747.3 77,751.4 85,754.6 93,756.2 101,757.1 109,756.2 117,753.9 125,749.5 133,742.2 141,734.3 149,727.3 157,720.4 165,713.5 173,706.6 181,700.6 189,695.0 197,689.8 205,684.1 213,678.9 221,673.3 229,667.9 237,661.6 245,656.2 253,652.1 261,649.6 269,648.1 277,648.1 285,649.4 293,651.7 301,653.9 309,658.0 317,662.9 325,667.0 333,671.8 341,675.0 349,678.1 357,679.5 365,680.1 373,679.0 381,676.8 389,675.0 397,671.8 405,667.9 413,663.4 421,658.9 429,655.0 437,652.1 445,650.3 453,649.0 461,648.5 469,648.5 477,649.4 485,651.4 493,654.1 501,657.1 509,659.8 517,662.9 525,667.0 533,670.0 541,674.1 549,677.0 557,680.8 565,684.9 573,688.0 581,690.3 589,693.7 597,696.6 605,698.8 613,700.1 621,701.0 629,701.7 637,701.7 645,702.0 653,702.9 661,703.2 669,703.2 677,703.2 685,702.0 693,703.2 701,704.5 709,706.2 717,707.1 725,708.0 733,707.1 741,705.4 749,703.2 757,700.6 765,696.2 773,692.3 781,685.7 789,679.6 797,672.2 805,667.9 813,663.9 821,659.8 829,657.5 837,655.9 845,654.4 853,653.2 861,652.1 869,650.8 877,650.8 885,649.9 893,649.0 901,648.1 909,646.3 917,645.1 925,644.2 933,643.3 941,643.3 949,644.0 957,645.1 965,647.2 973,649.0 981,650.8 989,653.2 997,655.3 1005,657.1 1013,658.0 1021,658.9 1029,660.7 1037,662.9 1045,663.9 1053,666.1 1061,668.2 1069,670.2 1077,672.4 1085,675.6 1093,677.2 1101,678.3 1109,680.4 1117,682.2 1125,683.1 1133,684.0 1141,685.4 1149,686.3 1157,687.3 1165,688.2 1173,689.3 1181,690.2 1189,692.0 1197,694.2" fill="none" stroke="#ff0000" stroke-width="3" stroke-linejoin="round"/>
<rect x="0" y="0" width="1578" height="1" fill="#a0a0a0"/>
<rect x="0" y="0" width="1" height="802" fill="#a0a0a0"/>
<rect x="1" y="1" width="1576" height="1" fill="#696969"/>
<rect x="1" y="1" width="1" height="800" fill="#696969"/>
<rect x="2" y="2" width="1575" height="2" fill="#fff"/>
<rect x="2" y="2" width="2" height="799" fill="#fff"/>
<rect x="1577" y="2" width="1" height="800" fill="#e3e3e3"/>
<rect x="2" y="801" width="1576" height="1" fill="#e3e3e3"/>
<rect x="4" y="4" width="1510" height="1" fill="#000"/>
<rect x="4" y="630" width="1510" height="1" fill="#000"/>
<rect x="4" y="4" width="1" height="627" fill="#000"/>
<rect x="1513" y="4" width="1" height="627" fill="#000"/>
<rect x="4" y="632" width="1510" height="1" fill="#000"/>
<rect x="4" y="774" width="1510" height="1" fill="#000"/>
<rect x="4" y="632" width="1" height="143" fill="#000"/>
<rect x="1513" y="632" width="1" height="143" fill="#000"/>
<rect x="1514" y="5" width="63" height="625" fill="#fff"/>
<rect x="1514" y="633" width="63" height="141" fill="#fff"/>
<rect x="2" y="775" width="1575" height="26" fill="#fff"/>
<line shape-rendering="geometricPrecision" x1="1199.5" y1="117" x2="1280" y2="236" stroke="#ff0000" stroke-width="5.5" stroke-linecap="round"/>
<polygon shape-rendering="geometricPrecision" points="1299.7,265.3 1289.6,229.1 1269.8,242.5" fill="#ff0000"/>
<rect x="1202" y="5" width="15" height="1" fill="#778899"/>
<rect x="1203" y="6" width="13" height="1" fill="#778899"/>
<rect x="1204" y="7" width="11" height="1" fill="#778899"/>
<rect x="1205" y="8" width="9" height="1" fill="#778899"/>
<rect x="1206" y="9" width="7" height="1" fill="#778899"/>
<rect x="1207" y="10" width="5" height="1" fill="#778899"/>
<rect x="1208" y="11" width="3" height="1" fill="#778899"/>
<rect x="1209" y="12" width="1" height="1" fill="#778899"/>
<rect x="8" y="12" width="11" height="1" fill="#000"/>
<rect x="9" y="13" width="9" height="1" fill="#000"/>
<rect x="10" y="14" width="7" height="1" fill="#000"/>
<rect x="11" y="15" width="5" height="1" fill="#000"/>
<rect x="12" y="16" width="3" height="1" fill="#000"/>
<rect x="13" y="17" width="1" height="1" fill="#000"/>
<rect x="1514" y="10" width="2" height="1" fill="#000"/>
<text x="1520.00" y="16" font-size="14" fill="#000" letter-spacing="0.400">4036.5</text>
<rect x="1514" y="75" width="2" height="1" fill="#000"/>
<text x="1519.00" y="81" font-size="14" fill="#000" letter-spacing="0.600">3978.0</text>
<rect x="1514" y="140" width="2" height="1" fill="#000"/>
<text x="1520.00" y="146" font-size="14" fill="#000" letter-spacing="0.400">3919.5</text>
<rect x="1514" y="205" width="2" height="1" fill="#000"/>
<text x="1519.00" y="211" font-size="14" fill="#000" letter-spacing="0.600">3861.0</text>
<rect x="1514" y="270" width="2" height="1" fill="#000"/>
<text x="1519.00" y="276" font-size="14" fill="#000" letter-spacing="0.600">3802.0</text>
<rect x="1514" y="335" width="2" height="1" fill="#000"/>
<text x="1519.00" y="341" font-size="14" fill="#000" letter-spacing="0.600">3743.5</text>
<rect x="1514" y="400" width="2" height="1" fill="#000"/>
<text x="1519.00" y="406" font-size="14" fill="#000" letter-spacing="0.600">3685.0</text>
<rect x="1514" y="465" width="2" height="1" fill="#000"/>
<text x="1519.00" y="471" font-size="14" fill="#000" letter-spacing="0.600">3626.0</text>
<rect x="1514" y="530" width="2" height="1" fill="#000"/>
<text x="1519.00" y="536" font-size="14" fill="#000" letter-spacing="0.600">3567.5</text>
<rect x="1514" y="595" width="2" height="1" fill="#000"/>
<text x="1519.00" y="601" font-size="14" fill="#000" letter-spacing="0.600">3509.0</text>
<rect x="1515" y="111" width="54" height="17" fill="#0000cd"/>
<text x="1519.00" y="125" font-size="14" fill="#fff" letter-spacing="0.400">3940.4</text>
<rect x="1515" y="143" width="54" height="17" fill="#000"/>
<text x="1519.00" y="157" font-size="14" fill="#fff" letter-spacing="0.600">3909.4</text>
<rect x="1514" y="632" width="2" height="1" fill="#000"/>
<rect x="1514" y="695" width="2" height="1" fill="#000"/>
<rect x="1514" y="773" width="1" height="1" fill="#000"/>
<text x="1517.00" y="648" font-size="14" fill="#000" letter-spacing="0.500">46.72</text>
<text x="1516.00" y="701" font-size="14" fill="#000" letter-spacing="0.667">0.00</text>
<text x="1516.00" y="770" font-size="14" fill="#000" letter-spacing="0.600">-59.05</text>
<rect x="5" y="775" width="1" height="3" fill="#000"/>
<text x="4.00" y="792" font-size="14" fill="#000" letter-spacing="0.300">27 Oct 2022</text>
<rect x="133" y="775" width="1" height="3" fill="#000"/>
<text x="131.00" y="792" font-size="14" fill="#000" letter-spacing="0.400">2 Nov 05:00</text>
<rect x="261" y="775" width="1" height="3" fill="#000"/>
<text x="259.00" y="792" font-size="14" fill="#000" letter-spacing="0.400">8 Nov 05:00</text>
<rect x="389" y="775" width="1" height="3" fill="#000"/>
<text x="388.00" y="792" font-size="14" fill="#000" letter-spacing="0.273">14 Nov 05:00</text>
<rect x="517" y="775" width="1" height="3" fill="#000"/>
<text x="516.00" y="792" font-size="14" fill="#000" letter-spacing="0.273">18 Nov 05:00</text>
<rect x="645" y="775" width="1" height="3" fill="#000"/>
<text x="643.00" y="792" font-size="14" fill="#000" letter-spacing="0.364">24 Nov 05:00</text>
<rect x="773" y="775" width="1" height="3" fill="#000"/>
<text x="771.00" y="792" font-size="14" fill="#000" letter-spacing="0.364">30 Nov 05:00</text>
<rect x="901" y="775" width="1" height="3" fill="#000"/>
<text x="899.00" y="792" font-size="14" fill="#000" letter-spacing="0.300">6 Dec 05:00</text>
<rect x="1029" y="775" width="1" height="3" fill="#000"/>
<text x="1028.00" y="792" font-size="14" fill="#000" letter-spacing="0.182">12 Dec 05:00</text>
<rect x="1157" y="775" width="1" height="3" fill="#000"/>
<text x="1156.00" y="792" font-size="14" fill="#000" letter-spacing="0.182">16 Dec 05:00</text>
<text x="25.00" y="21" font-size="14" fill="#000" letter-spacing="-0.364">CHINA300-,H1</text>
<text x="122.00" y="21" font-size="14" fill="#000" letter-spacing="0.400">3912.9</text>
<text x="170.00" y="21" font-size="14" fill="#000" letter-spacing="0.600">3915.7</text>
<text x="218.00" y="21" font-size="14" fill="#000" letter-spacing="0.600">3893.4</text>
<text x="266.00" y="21" font-size="14" fill="#000" letter-spacing="0.600">3909.4</text>
<text x="8.00" y="650" font-size="14" fill="#000" letter-spacing="0.043">MACD(12,26,9) -6.65 1.26</text>
</svg>
</body></html>
